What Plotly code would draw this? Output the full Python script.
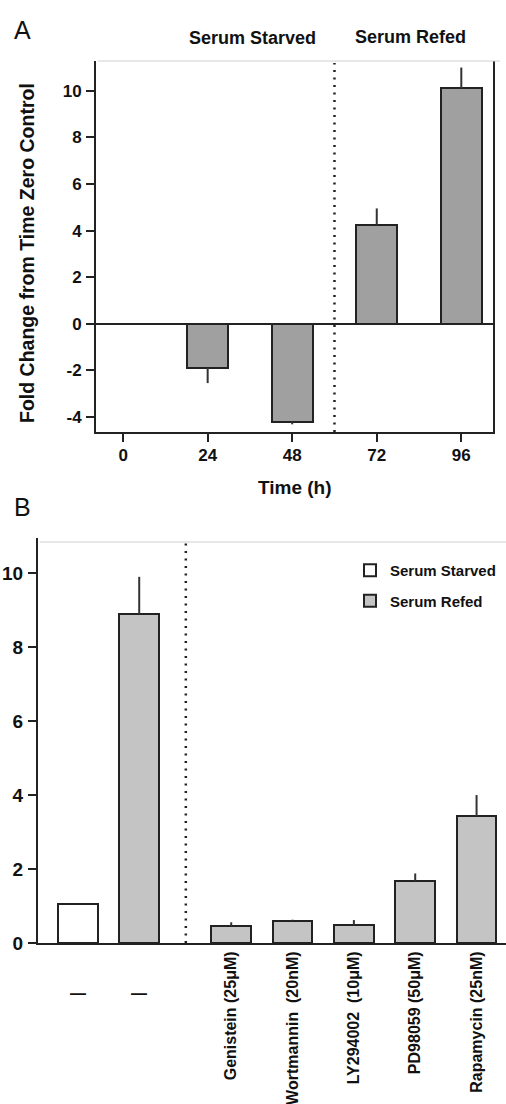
import plotly.graph_objects as go

W, H = 506, 1104

# ---------------- Data ----------------
# Panel A
time_h = [0, 24, 48, 72, 96]
fold_change_a = [0.0, -1.9, -4.2, 4.25, 10.1]
fold_err_a = [0.0, 0.65, 0.12, 0.7, 0.9]
a_tick_vals = [-4, -2, 0, 2, 4, 6, 8, 10]
a_tick_text = ["-4", "-2", "0", "2", "4", "6", "8", "10"]

# Panel B
b_categories = ["—", "—", "Genistein (25μM)", "Wortmannin\u00a0 (20nM)",
                "LY294002\u00a0 (10μM)", "PD98059 (50μM)", "Rapamycin (25nM)"]
b_condition = ["Serum Starved", "Serum Refed", "Serum Refed", "Serum Refed",
               "Serum Refed", "Serum Refed", "Serum Refed"]
b_values = [1.05, 8.9, 0.46, 0.6, 0.49, 1.68, 3.43]
b_errors = [0.0, 1.0, 0.1, 0.03, 0.13, 0.2, 0.57]
b_tick_vals = [0, 2, 4, 6, 8, 10]

FONT = "Liberation Sans, Arial, Helvetica, sans-serif"
EDGE = "#222222"


def px(x):
    return x / W


def py(y):
    return 1 - y / H


fig = go.Figure()

# ---------------- Panel A ----------------
err_up_a = [e if v >= 0 else 0 for v, e in zip(fold_change_a, fold_err_a)]
err_dn_a = [e if v < 0 else 0 for v, e in zip(fold_change_a, fold_err_a)]
fig.add_trace(go.Bar(
    x=time_h, y=fold_change_a, width=11.6,
    marker=dict(color="#a0a0a0", line=dict(color=EDGE, width=2)),
    error_y=dict(type="data", symmetric=False, array=err_up_a, arrayminus=err_dn_a,
                 width=0, thickness=2, color="#333333"),
    xaxis="x", yaxis="y", showlegend=False, name="Fold change",
))

# ---------------- Panel B ----------------
# numeric positions with a gap after the two untreated bars
b_pos = [i + (0.5 if i >= 2 else 0) for i in range(len(b_categories))]
for cond, color in [("Serum Starved", "#ffffff"), ("Serum Refed", "#c4c4c4")]:
    idx = [i for i, c in enumerate(b_condition) if c == cond]
    fig.add_trace(go.Bar(
        x=[b_pos[i] for i in idx], y=[b_values[i] for i in idx], width=0.65,
        marker=dict(color=color, line=dict(color=EDGE, width=2)),
        error_y=dict(type="data", symmetric=False, array=[b_errors[i] for i in idx],
                     arrayminus=[0] * len(idx), width=0, thickness=2, color="#333333"),
        xaxis="x2", yaxis="y2", name=cond, legendgroup=cond,
    ))

axis_common = dict(showgrid=False, showline=True, linecolor=EDGE, linewidth=2,
                   automargin=False)

fig.update_layout(
    width=W, height=H, template="none",
    margin=dict(l=0, r=0, t=0, b=0),
    paper_bgcolor="white", plot_bgcolor="white",
    font=dict(family=FONT, color="#111111"),
    barmode="overlay", bargap=0,
    xaxis=dict(domain=[px(96), px(493)], range=[-7.7, 105.0], anchor="y",
               tickvals=time_h, ticks="outside", ticklen=8, tickwidth=2, tickcolor=EDGE,
               ticklabelstandoff=-1, zeroline=False,
               tickfont=dict(size=17, weight="bold", family=FONT), **axis_common),
    yaxis=dict(domain=[py(432), py(61)], range=[-4.65, 11.28], anchor="x",
               tickvals=a_tick_vals, ticktext=a_tick_text, ticks="outside", ticklen=8,
               tickwidth=2, tickcolor=EDGE, ticklabelstandoff=1,
               tickfont=dict(size=17, weight="bold", family=FONT), mirror=True,
               zeroline=True, zerolinecolor=EDGE, zerolinewidth=2, **axis_common),
    xaxis2=dict(domain=[px(38), 1.0], range=[-0.65, 6.98], anchor="y2",
                tickvals=b_pos[2:], ticktext=b_categories[2:], tickangle=-90, ticks="",
                zeroline=False,
                tickfont=dict(size=16, weight="bold", family=FONT), **axis_common),
    yaxis2=dict(domain=[py(943), py(538)], range=[0, 10.95], anchor="x2",
                tickvals=b_tick_vals, ticks="outside", ticklen=8, tickwidth=2, tickcolor=EDGE,
                ticklabelstandoff=1, zeroline=False,
                tickfont=dict(size=19, weight="bold", family=FONT), **axis_common),
    legend=dict(x=px(350), y=py(554), xanchor="left", yanchor="top",
                bgcolor="rgba(0,0,0,0)", font=dict(size=15, weight="bold", family=FONT),
                traceorder="grouped", tracegroupgap=8),
)

# dotted separators and faint top borders
fig.add_shape(type="line", xref="x", yref="paper", x0=60, x1=60, y0=py(432), y1=py(63),
              line=dict(color=EDGE, width=2.5, dash="2px,5.5px"))
fig.add_shape(type="line", xref="x2", yref="paper", x0=1.76, x1=1.76, y0=py(943), y1=py(543),
              line=dict(color=EDGE, width=2.5, dash="2px,5.5px"))
fig.add_shape(type="line", xref="paper", yref="paper", x0=px(98), x1=px(500), y0=py(61), y1=py(61),
              line=dict(color="#d0d0d0", width=1))
fig.add_shape(type="line", xref="paper", yref="paper", x0=px(40), x1=1.0, y0=py(542), y1=py(542),
              line=dict(color="#d0d0d0", width=1))

ann = []
ann.append(dict(text="A", x=px(12), y=py(30), xanchor="left", yanchor="middle",
                font=dict(size=25, family=FONT)))
ann.append(dict(text="B", x=px(12), y=py(507), xanchor="left", yanchor="middle",
                font=dict(size=25, family=FONT)))
ann.append(dict(text="Serum Starved", x=px(252), y=py(38), xanchor="center", yanchor="middle",
                font=dict(size=18, weight="bold", family=FONT)))
ann.append(dict(text="Serum Refed", x=px(410), y=py(37), xanchor="center", yanchor="middle",
                font=dict(size=18, weight="bold", family=FONT)))
ann.append(dict(text="Fold Change from Time Zero Control", x=px(27), y=py(253), textangle=-90,
                xanchor="center", yanchor="middle", font=dict(size=19.5, weight="bold", family=FONT)))
ann.append(dict(text="Time (h)", x=px(295), y=py(488), xanchor="center", yanchor="middle",
                font=dict(size=19, weight="bold", family=FONT)))
for i in range(2):
    ann.append(dict(text=b_categories[i], x=b_pos[i], xref="x2", y=py(993), yref="paper",
                    xanchor="center", yanchor="middle", font=dict(size=16, weight="bold", family=FONT)))
for a in ann:
    a.setdefault("xref", "paper")
    a.setdefault("yref", "paper")
    a["showarrow"] = False
fig.update_layout(annotations=ann)

fig.write_html("out.html", config={"displayModeBar": False},
               post_script="document.body.style.margin='0';document.body.style.overflow='hidden';")
